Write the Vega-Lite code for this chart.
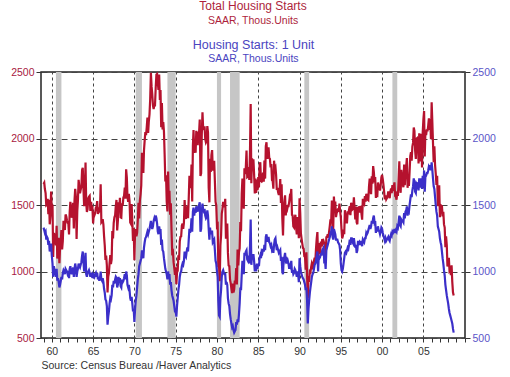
{
"$schema": "https://vega.github.io/schema/vega-lite/v6.json",
"width": 424, "height": 266,
"autosize": {"type": "none"},
"padding": {"left": 41, "top": 72, "right": 45, "bottom": 39},
"background": "white",
"config": {"view": {"stroke": "#222", "strokeWidth": 1.5}, "font": "Liberation Sans"},
"title": {"text": "Total Housing Starts", "subtitle": "SAAR, Thous.Units", "color": "#ad1f3c", "subtitleColor": "#ad1f3c", "fontSize": 12, "subtitleFontSize": 10.5, "fontWeight": "normal", "font": "Liberation Sans", "subtitleFont": "Liberation Sans", "anchor": "middle", "offset": 11, "subtitlePadding": 3},
"datasets": {
"rec": [
{"s":"1960-07","e":"1961-03"},{"s":"1970-03","e":"1970-12"},{"s":"1974-01","e":"1975-01"},{"s":"1980-01","e":"1980-07"},{"s":"1981-08","e":"1982-10"},{"s":"1990-08","e":"1991-03"},{"s":"2001-04","e":"2001-11"}
],
"m": [
{"d":"1959-01","a":1657,"b":1330},{"d":"1959-02","a":1667,"b":1310},{"d":"1959-03","a":1620,"b":1290},{"d":"1959-04","a":1590,"b":1300},{"d":"1959-05","a":1498,"b":1240},{"d":"1959-06","a":1503,"b":1260},{"d":"1959-07","a":1547,"b":1250},{"d":"1959-08","a":1430,"b":1200},{"d":"1959-09","a":1540,"b":1230},{"d":"1959-10","a":1355,"b":1150},{"d":"1959-11","a":1416,"b":1180},{"d":"1959-12","a":1601,"b":1210},
{"d":"1960-01","a":1460,"b":1120},{"d":"1960-02","a":1503,"b":1060},{"d":"1960-03","a":1109,"b":960},{"d":"1960-04","a":1289,"b":1040},{"d":"1960-05","a":1271,"b":1010},{"d":"1960-06","a":1247,"b":990},{"d":"1960-07","a":1197,"b":960},{"d":"1960-08","a":1344,"b":1020},{"d":"1960-09","a":1097,"b":930},{"d":"1960-10","a":1246,"b":950},{"d":"1960-11","a":1246,"b":920},{"d":"1960-12","a":1063,"b":880},
{"d":"1961-01","a":1183,"b":900},{"d":"1961-02","a":1226,"b":930},{"d":"1961-03","a":1312,"b":960},{"d":"1961-04","a":1166,"b":940},{"d":"1961-05","a":1228,"b":990},{"d":"1961-06","a":1382,"b":1010},{"d":"1961-07","a":1335,"b":1000},{"d":"1961-08","a":1312,"b":980},{"d":"1961-09","a":1429,"b":1020},{"d":"1961-10","a":1415,"b":1010},{"d":"1961-11","a":1385,"b":1000},{"d":"1961-12","a":1365,"b":980},
{"d":"1962-01","a":1361,"b":990},{"d":"1962-02","a":1278,"b":950},{"d":"1962-03","a":1443,"b":1020},{"d":"1962-04","a":1524,"b":1040},{"d":"1962-05","a":1483,"b":1000},{"d":"1962-06","a":1404,"b":980},{"d":"1962-07","a":1450,"b":1010},{"d":"1962-08","a":1517,"b":1030},{"d":"1962-09","a":1324,"b":960},{"d":"1962-10","a":1533,"b":1020},{"d":"1962-11","a":1622,"b":1060},{"d":"1962-12","a":1564,"b":1030},
{"d":"1963-01","a":1244,"b":960},{"d":"1963-02","a":1456,"b":1000},{"d":"1963-03","a":1534,"b":1020},{"d":"1963-04","a":1689,"b":1060},{"d":"1963-05","a":1641,"b":1040},{"d":"1963-06","a":1588,"b":1030},{"d":"1963-07","a":1614,"b":1050},{"d":"1963-08","a":1639,"b":1070},{"d":"1963-09","a":1763,"b":1120},{"d":"1963-10","a":1779,"b":1150},{"d":"1963-11","a":1622,"b":1080},{"d":"1963-12","a":1491,"b":1000},
{"d":"1964-01","a":1603,"b":1030},{"d":"1964-02","a":1820,"b":1140},{"d":"1964-03","a":1517,"b":980},{"d":"1964-04","a":1448,"b":960},{"d":"1964-05","a":1467,"b":990},{"d":"1964-06","a":1550,"b":1000},{"d":"1964-07","a":1562,"b":1010},{"d":"1964-08","a":1569,"b":990},{"d":"1964-09","a":1455,"b":960},{"d":"1964-10","a":1524,"b":990},{"d":"1964-11","a":1486,"b":970},{"d":"1964-12","a":1484,"b":980},
{"d":"1965-01","a":1361,"b":950},{"d":"1965-02","a":1433,"b":970},{"d":"1965-03","a":1423,"b":960},{"d":"1965-04","a":1438,"b":980},{"d":"1965-05","a":1478,"b":990},{"d":"1965-06","a":1488,"b":960},{"d":"1965-07","a":1529,"b":990},{"d":"1965-08","a":1432,"b":940},{"d":"1965-09","a":1482,"b":960},{"d":"1965-10","a":1452,"b":930},{"d":"1965-11","a":1460,"b":950},{"d":"1965-12","a":1656,"b":1000},
{"d":"1966-01","a":1370,"b":940},{"d":"1966-02","a":1378,"b":930},{"d":"1966-03","a":1394,"b":950},{"d":"1966-04","a":1352,"b":920},{"d":"1966-05","a":1265,"b":870},{"d":"1966-06","a":1194,"b":840},{"d":"1966-07","a":1086,"b":790},{"d":"1966-08","a":1119,"b":780},{"d":"1966-09","a":1046,"b":740},{"d":"1966-10","a":843,"b":600},{"d":"1966-11","a":961,"b":660},{"d":"1966-12","a":990,"b":700},
{"d":"1967-01","a":1067,"b":760},{"d":"1967-02","a":1123,"b":800},{"d":"1967-03","a":1056,"b":790},{"d":"1967-04","a":1091,"b":820},{"d":"1967-05","a":1304,"b":900},{"d":"1967-06","a":1248,"b":880},{"d":"1967-07","a":1364,"b":930},{"d":"1967-08","a":1407,"b":910},{"d":"1967-09","a":1421,"b":940},{"d":"1967-10","a":1491,"b":960},{"d":"1967-11","a":1538,"b":950},{"d":"1967-12","a":1308,"b":880},
{"d":"1968-01","a":1380,"b":900},{"d":"1968-02","a":1520,"b":960},{"d":"1968-03","a":1466,"b":920},{"d":"1968-04","a":1554,"b":950},{"d":"1968-05","a":1408,"b":890},{"d":"1968-06","a":1405,"b":880},{"d":"1968-07","a":1512,"b":940},{"d":"1968-08","a":1495,"b":920},{"d":"1968-09","a":1556,"b":930},{"d":"1968-10","a":1569,"b":950},{"d":"1968-11","a":1630,"b":980},{"d":"1968-12","a":1548,"b":940},
{"d":"1969-01","a":1769,"b":1000},{"d":"1969-02","a":1705,"b":970},{"d":"1969-03","a":1561,"b":900},{"d":"1969-04","a":1524,"b":880},{"d":"1969-05","a":1583,"b":900},{"d":"1969-06","a":1528,"b":860},{"d":"1969-07","a":1368,"b":800},{"d":"1969-08","a":1358,"b":780},{"d":"1969-09","a":1507,"b":810},{"d":"1969-10","a":1381,"b":760},{"d":"1969-11","a":1229,"b":700},{"d":"1969-12","a":1327,"b":720},
{"d":"1970-01","a":1085,"b":620},{"d":"1970-02","a":1305,"b":720},{"d":"1970-03","a":1319,"b":780},{"d":"1970-04","a":1264,"b":820},{"d":"1970-05","a":1290,"b":880},{"d":"1970-06","a":1385,"b":940},{"d":"1970-07","a":1517,"b":980},{"d":"1970-08","a":1399,"b":1040},{"d":"1970-09","a":1534,"b":1060},{"d":"1970-10","a":1580,"b":1080},{"d":"1970-11","a":1647,"b":1100},{"d":"1970-12","a":1893,"b":1160},
{"d":"1971-01","a":1828,"b":1120},{"d":"1971-02","a":1741,"b":1100},{"d":"1971-03","a":1910,"b":1180},{"d":"1971-04","a":1986,"b":1220},{"d":"1971-05","a":2049,"b":1250},{"d":"1971-06","a":2026,"b":1260},{"d":"1971-07","a":2083,"b":1280},{"d":"1971-08","a":2158,"b":1300},{"d":"1971-09","a":2041,"b":1280},{"d":"1971-10","a":2128,"b":1300},{"d":"1971-11","a":2182,"b":1320},{"d":"1971-12","a":2295,"b":1350},
{"d":"1972-01","a":2494,"b":1380},{"d":"1972-02","a":2390,"b":1340},{"d":"1972-03","a":2334,"b":1320},{"d":"1972-04","a":2249,"b":1340},{"d":"1972-05","a":2221,"b":1380},{"d":"1972-06","a":2254,"b":1400},{"d":"1972-07","a":2252,"b":1380},{"d":"1972-08","a":2382,"b":1420},{"d":"1972-09","a":2481,"b":1400},{"d":"1972-10","a":2485,"b":1360},{"d":"1972-11","a":2421,"b":1300},{"d":"1972-12","a":2366,"b":1280},
{"d":"1973-01","a":2481,"b":1340},{"d":"1973-02","a":2289,"b":1300},{"d":"1973-03","a":2365,"b":1320},{"d":"1973-04","a":2084,"b":1200},{"d":"1973-05","a":2266,"b":1240},{"d":"1973-06","a":2067,"b":1160},{"d":"1973-07","a":2123,"b":1150},{"d":"1973-08","a":2051,"b":1100},{"d":"1973-09","a":1874,"b":1060},{"d":"1973-10","a":1677,"b":1020},{"d":"1973-11","a":1724,"b":1000},{"d":"1973-12","a":1526,"b":980},
{"d":"1974-01","a":1451,"b":940},{"d":"1974-02","a":1752,"b":1000},{"d":"1974-03","a":1555,"b":960},{"d":"1974-04","a":1607,"b":980},{"d":"1974-05","a":1426,"b":900},{"d":"1974-06","a":1513,"b":920},{"d":"1974-07","a":1316,"b":860},{"d":"1974-08","a":1142,"b":820},{"d":"1974-09","a":1150,"b":800},{"d":"1974-10","a":1070,"b":780},{"d":"1974-11","a":1026,"b":740},{"d":"1974-12","a":975,"b":700},
{"d":"1975-01","a":1032,"b":700},{"d":"1975-02","a":904,"b":660},{"d":"1975-03","a":993,"b":740},{"d":"1975-04","a":1005,"b":800},{"d":"1975-05","a":1121,"b":860},{"d":"1975-06","a":1087,"b":900},{"d":"1975-07","a":1226,"b":960},{"d":"1975-08","a":1260,"b":990},{"d":"1975-09","a":1264,"b":1000},{"d":"1975-10","a":1344,"b":1040},{"d":"1975-11","a":1360,"b":1060},{"d":"1975-12","a":1321,"b":1050},
{"d":"1976-01","a":1367,"b":1080},{"d":"1976-02","a":1538,"b":1150},{"d":"1976-03","a":1421,"b":1120},{"d":"1976-04","a":1395,"b":1110},{"d":"1976-05","a":1459,"b":1150},{"d":"1976-06","a":1495,"b":1180},{"d":"1976-07","a":1401,"b":1150},{"d":"1976-08","a":1550,"b":1240},{"d":"1976-09","a":1720,"b":1320},{"d":"1976-10","a":1629,"b":1290},{"d":"1976-11","a":1641,"b":1320},{"d":"1976-12","a":1804,"b":1400},
{"d":"1977-01","a":1527,"b":1300},{"d":"1977-02","a":1943,"b":1450},{"d":"1977-03","a":2063,"b":1480},{"d":"1977-04","a":1892,"b":1420},{"d":"1977-05","a":1971,"b":1460},{"d":"1977-06","a":1893,"b":1440},{"d":"1977-07","a":2058,"b":1490},{"d":"1977-08","a":2020,"b":1470},{"d":"1977-09","a":1949,"b":1450},{"d":"1977-10","a":2042,"b":1480},{"d":"1977-11","a":2042,"b":1500},{"d":"1977-12","a":2142,"b":1520},
{"d":"1978-01","a":1718,"b":1300},{"d":"1978-02","a":1738,"b":1320},{"d":"1978-03","a":2032,"b":1450},{"d":"1978-04","a":2197,"b":1510},{"d":"1978-05","a":2075,"b":1460},{"d":"1978-06","a":2070,"b":1450},{"d":"1978-07","a":2092,"b":1470},{"d":"1978-08","a":1996,"b":1420},{"d":"1978-09","a":1970,"b":1400},{"d":"1978-10","a":1981,"b":1410},{"d":"1978-11","a":2094,"b":1460},{"d":"1978-12","a":2044,"b":1420},
{"d":"1979-01","a":1630,"b":1320},{"d":"1979-02","a":1520,"b":1240},{"d":"1979-03","a":1847,"b":1330},{"d":"1979-04","a":1748,"b":1280},{"d":"1979-05","a":1876,"b":1300},{"d":"1979-06","a":1913,"b":1300},{"d":"1979-07","a":1760,"b":1220},{"d":"1979-08","a":1778,"b":1230},{"d":"1979-09","a":1832,"b":1240},{"d":"1979-10","a":1681,"b":1160},{"d":"1979-11","a":1524,"b":1080},{"d":"1979-12","a":1498,"b":1060},
{"d":"1980-01","a":1341,"b":1000},{"d":"1980-02","a":1350,"b":960},{"d":"1980-03","a":1047,"b":780},{"d":"1980-04","a":1051,"b":670},{"d":"1980-05","a":927,"b":660},{"d":"1980-06","a":1196,"b":800},{"d":"1980-07","a":1269,"b":860},{"d":"1980-08","a":1436,"b":960},{"d":"1980-09","a":1471,"b":1000},{"d":"1980-10","a":1523,"b":1010},{"d":"1980-11","a":1510,"b":990},{"d":"1980-12","a":1482,"b":980},
{"d":"1981-01","a":1547,"b":980},{"d":"1981-02","a":1246,"b":900},{"d":"1981-03","a":1306,"b":920},{"d":"1981-04","a":1360,"b":900},{"d":"1981-05","a":1140,"b":800},{"d":"1981-06","a":1045,"b":760},{"d":"1981-07","a":1041,"b":740},{"d":"1981-08","a":940,"b":680},{"d":"1981-09","a":911,"b":640},{"d":"1981-10","a":873,"b":610},{"d":"1981-11","a":837,"b":580},{"d":"1981-12","a":910,"b":590},
{"d":"1982-01","a":843,"b":560},{"d":"1982-02","a":866,"b":540},{"d":"1982-03","a":931,"b":550},{"d":"1982-04","a":917,"b":560},{"d":"1982-05","a":1025,"b":620},{"d":"1982-06","a":902,"b":600},{"d":"1982-07","a":1166,"b":640},{"d":"1982-08","a":1046,"b":620},{"d":"1982-09","a":1144,"b":680},{"d":"1982-10","a":1173,"b":760},{"d":"1982-11","a":1372,"b":880},{"d":"1982-12","a":1303,"b":860},
{"d":"1983-01","a":1586,"b":980},{"d":"1983-02","a":1699,"b":1080},{"d":"1983-03","a":1606,"b":1060},{"d":"1983-04","a":1472,"b":980},{"d":"1983-05","a":1776,"b":1140},{"d":"1983-06","a":1733,"b":1120},{"d":"1983-07","a":1785,"b":1150},{"d":"1983-08","a":1910,"b":1160},{"d":"1983-09","a":1710,"b":1090},{"d":"1983-10","a":1715,"b":1080},{"d":"1983-11","a":1785,"b":1120},{"d":"1983-12","a":1688,"b":1060},
{"d":"1984-01","a":1897,"b":1180},{"d":"1984-02","a":2260,"b":1390},{"d":"1984-03","a":1663,"b":1050},{"d":"1984-04","a":1851,"b":1120},{"d":"1984-05","a":1774,"b":1100},{"d":"1984-06","a":1843,"b":1130},{"d":"1984-07","a":1732,"b":1080},{"d":"1984-08","a":1586,"b":1000},{"d":"1984-09","a":1698,"b":1050},{"d":"1984-10","a":1590,"b":1000},{"d":"1984-11","a":1689,"b":1060},{"d":"1984-12","a":1612,"b":1020},
{"d":"1985-01","a":1711,"b":1060},{"d":"1985-02","a":1632,"b":1040},{"d":"1985-03","a":1800,"b":1100},{"d":"1985-04","a":1821,"b":1120},{"d":"1985-05","a":1680,"b":1100},{"d":"1985-06","a":1676,"b":1150},{"d":"1985-07","a":1684,"b":1140},{"d":"1985-08","a":1743,"b":1170},{"d":"1985-09","a":1676,"b":1150},{"d":"1985-10","a":1834,"b":1200},{"d":"1985-11","a":1698,"b":1160},{"d":"1985-12","a":1942,"b":1260},
{"d":"1986-01","a":1972,"b":1280},{"d":"1986-02","a":1848,"b":1230},{"d":"1986-03","a":1876,"b":1230},{"d":"1986-04","a":1933,"b":1260},{"d":"1986-05","a":1854,"b":1220},{"d":"1986-06","a":1847,"b":1210},{"d":"1986-07","a":1782,"b":1190},{"d":"1986-08","a":1807,"b":1200},{"d":"1986-09","a":1687,"b":1160},{"d":"1986-10","a":1681,"b":1170},{"d":"1986-11","a":1623,"b":1140},{"d":"1986-12","a":1833,"b":1200},
{"d":"1987-01","a":1774,"b":1240},{"d":"1987-02","a":1784,"b":1250},{"d":"1987-03","a":1726,"b":1200},{"d":"1987-04","a":1614,"b":1160},{"d":"1987-05","a":1628,"b":1180},{"d":"1987-06","a":1594,"b":1160},{"d":"1987-07","a":1575,"b":1140},{"d":"1987-08","a":1605,"b":1150},{"d":"1987-09","a":1695,"b":1160},{"d":"1987-10","a":1515,"b":1080},{"d":"1987-11","a":1656,"b":1110},{"d":"1987-12","a":1400,"b":1000},
{"d":"1988-01","a":1271,"b":980},{"d":"1988-02","a":1473,"b":1100},{"d":"1988-03","a":1532,"b":1110},{"d":"1988-04","a":1573,"b":1140},{"d":"1988-05","a":1421,"b":1080},{"d":"1988-06","a":1478,"b":1090},{"d":"1988-07","a":1467,"b":1060},{"d":"1988-08","a":1493,"b":1080},{"d":"1988-09","a":1492,"b":1060},{"d":"1988-10","a":1522,"b":1020},{"d":"1988-11","a":1569,"b":1040},{"d":"1988-12","a":1563,"b":1030},
{"d":"1989-01","a":1621,"b":1080},{"d":"1989-02","a":1425,"b":990},{"d":"1989-03","a":1422,"b":1010},{"d":"1989-04","a":1339,"b":980},{"d":"1989-05","a":1331,"b":990},{"d":"1989-06","a":1397,"b":1020},{"d":"1989-07","a":1427,"b":1010},{"d":"1989-08","a":1332,"b":990},{"d":"1989-09","a":1279,"b":960},{"d":"1989-10","a":1410,"b":1000},{"d":"1989-11","a":1351,"b":980},{"d":"1989-12","a":1251,"b":920},
{"d":"1990-01","a":1551,"b":1100},{"d":"1990-02","a":1437,"b":1040},{"d":"1990-03","a":1289,"b":1000},{"d":"1990-04","a":1248,"b":980},{"d":"1990-05","a":1212,"b":960},{"d":"1990-06","a":1177,"b":950},{"d":"1990-07","a":1171,"b":940},{"d":"1990-08","a":1115,"b":920},{"d":"1990-09","a":1110,"b":900},{"d":"1990-10","a":1014,"b":860},{"d":"1990-11","a":1145,"b":880},{"d":"1990-12","a":969,"b":780},
{"d":"1991-01","a":798,"b":610},{"d":"1991-02","a":965,"b":720},{"d":"1991-03","a":921,"b":780},{"d":"1991-04","a":1001,"b":840},{"d":"1991-05","a":996,"b":880},{"d":"1991-06","a":1036,"b":920},{"d":"1991-07","a":1063,"b":960},{"d":"1991-08","a":1049,"b":980},{"d":"1991-09","a":1015,"b":990},{"d":"1991-10","a":1079,"b":1020},{"d":"1991-11","a":1103,"b":1050},{"d":"1991-12","a":1079,"b":1060},
{"d":"1992-01","a":1176,"b":1080},{"d":"1992-02","a":1250,"b":1120},{"d":"1992-03","a":1297,"b":1150},{"d":"1992-04","a":1099,"b":1000},{"d":"1992-05","a":1214,"b":1120},{"d":"1992-06","a":1145,"b":1100},{"d":"1992-07","a":1139,"b":1110},{"d":"1992-08","a":1226,"b":1140},{"d":"1992-09","a":1186,"b":1120},{"d":"1992-10","a":1244,"b":1160},{"d":"1992-11","a":1214,"b":1170},{"d":"1992-12","a":1227,"b":1180},
{"d":"1993-01","a":1210,"b":1060},{"d":"1993-02","a":1210,"b":1080},{"d":"1993-03","a":1083,"b":1020},{"d":"1993-04","a":1258,"b":1160},{"d":"1993-05","a":1260,"b":1180},{"d":"1993-06","a":1280,"b":1200},{"d":"1993-07","a":1254,"b":1220},{"d":"1993-08","a":1300,"b":1240},{"d":"1993-09","a":1343,"b":1260},{"d":"1993-10","a":1392,"b":1290},{"d":"1993-11","a":1376,"b":1300},{"d":"1993-12","a":1533,"b":1340},
{"d":"1994-01","a":1272,"b":1260},{"d":"1994-02","a":1337,"b":1240},{"d":"1994-03","a":1564,"b":1320},{"d":"1994-04","a":1465,"b":1300},{"d":"1994-05","a":1526,"b":1280},{"d":"1994-06","a":1409,"b":1240},{"d":"1994-07","a":1439,"b":1240},{"d":"1994-08","a":1450,"b":1240},{"d":"1994-09","a":1474,"b":1220},{"d":"1994-10","a":1450,"b":1210},{"d":"1994-11","a":1511,"b":1200},{"d":"1994-12","a":1455,"b":1160},
{"d":"1995-01","a":1407,"b":1060},{"d":"1995-02","a":1316,"b":1010},{"d":"1995-03","a":1249,"b":1000},{"d":"1995-04","a":1267,"b":1020},{"d":"1995-05","a":1314,"b":1060},{"d":"1995-06","a":1281,"b":1100},{"d":"1995-07","a":1461,"b":1140},{"d":"1995-08","a":1416,"b":1150},{"d":"1995-09","a":1369,"b":1140},{"d":"1995-10","a":1369,"b":1160},{"d":"1995-11","a":1452,"b":1180},{"d":"1995-12","a":1431,"b":1170},
{"d":"1996-01","a":1467,"b":1200},{"d":"1996-02","a":1491,"b":1240},{"d":"1996-03","a":1424,"b":1200},{"d":"1996-04","a":1516,"b":1250},{"d":"1996-05","a":1504,"b":1250},{"d":"1996-06","a":1467,"b":1220},{"d":"1996-07","a":1472,"b":1210},{"d":"1996-08","a":1557,"b":1250},{"d":"1996-09","a":1475,"b":1210},{"d":"1996-10","a":1392,"b":1180},{"d":"1996-11","a":1489,"b":1200},{"d":"1996-12","a":1370,"b":1140},
{"d":"1997-01","a":1355,"b":1160},{"d":"1997-02","a":1486,"b":1230},{"d":"1997-03","a":1457,"b":1210},{"d":"1997-04","a":1492,"b":1220},{"d":"1997-05","a":1442,"b":1200},{"d":"1997-06","a":1494,"b":1230},{"d":"1997-07","a":1437,"b":1210},{"d":"1997-08","a":1390,"b":1190},{"d":"1997-09","a":1546,"b":1240},{"d":"1997-10","a":1520,"b":1230},{"d":"1997-11","a":1510,"b":1220},{"d":"1997-12","a":1566,"b":1250},
{"d":"1998-01","a":1525,"b":1250},{"d":"1998-02","a":1584,"b":1290},{"d":"1998-03","a":1567,"b":1280},{"d":"1998-04","a":1540,"b":1290},{"d":"1998-05","a":1536,"b":1310},{"d":"1998-06","a":1641,"b":1330},{"d":"1998-07","a":1698,"b":1350},{"d":"1998-08","a":1614,"b":1320},{"d":"1998-09","a":1582,"b":1340},{"d":"1998-10","a":1715,"b":1380},{"d":"1998-11","a":1660,"b":1360},{"d":"1998-12","a":1792,"b":1400},
{"d":"1999-01","a":1748,"b":1420},{"d":"1999-02","a":1670,"b":1370},{"d":"1999-03","a":1710,"b":1380},{"d":"1999-04","a":1553,"b":1290},{"d":"1999-05","a":1611,"b":1330},{"d":"1999-06","a":1559,"b":1300},{"d":"1999-07","a":1669,"b":1340},{"d":"1999-08","a":1648,"b":1310},{"d":"1999-09","a":1635,"b":1300},{"d":"1999-10","a":1608,"b":1280},{"d":"1999-11","a":1651,"b":1300},{"d":"1999-12","a":1709,"b":1330},
{"d":"2000-01","a":1727,"b":1320},{"d":"2000-02","a":1692,"b":1290},{"d":"2000-03","a":1651,"b":1270},{"d":"2000-04","a":1597,"b":1250},{"d":"2000-05","a":1543,"b":1230},{"d":"2000-06","a":1572,"b":1250},{"d":"2000-07","a":1542,"b":1230},{"d":"2000-08","a":1552,"b":1240},{"d":"2000-09","a":1568,"b":1250},{"d":"2000-10","a":1602,"b":1260},{"d":"2000-11","a":1577,"b":1240},{"d":"2000-12","a":1551,"b":1230},
{"d":"2001-01","a":1600,"b":1260},{"d":"2001-02","a":1625,"b":1280},{"d":"2001-03","a":1590,"b":1270},{"d":"2001-04","a":1649,"b":1300},{"d":"2001-05","a":1605,"b":1290},{"d":"2001-06","a":1636,"b":1300},{"d":"2001-07","a":1670,"b":1320},{"d":"2001-08","a":1567,"b":1290},{"d":"2001-09","a":1562,"b":1310},{"d":"2001-10","a":1540,"b":1300},{"d":"2001-11","a":1602,"b":1340},{"d":"2001-12","a":1568,"b":1330},
{"d":"2002-01","a":1698,"b":1370},{"d":"2002-02","a":1829,"b":1420},{"d":"2002-03","a":1642,"b":1350},{"d":"2002-04","a":1592,"b":1340},{"d":"2002-05","a":1764,"b":1390},{"d":"2002-06","a":1717,"b":1380},{"d":"2002-07","a":1655,"b":1380},{"d":"2002-08","a":1633,"b":1370},{"d":"2002-09","a":1804,"b":1440},{"d":"2002-10","a":1648,"b":1400},{"d":"2002-11","a":1753,"b":1450},{"d":"2002-12","a":1788,"b":1460},
{"d":"2003-01","a":1853,"b":1490},{"d":"2003-02","a":1629,"b":1420},{"d":"2003-03","a":1726,"b":1460},{"d":"2003-04","a":1643,"b":1450},{"d":"2003-05","a":1751,"b":1500},{"d":"2003-06","a":1867,"b":1540},{"d":"2003-07","a":1897,"b":1580},{"d":"2003-08","a":1833,"b":1560},{"d":"2003-09","a":1939,"b":1610},{"d":"2003-10","a":1967,"b":1640},{"d":"2003-11","a":2083,"b":1700},{"d":"2003-12","a":2057,"b":1670},
{"d":"2004-01","a":1911,"b":1600},{"d":"2004-02","a":1846,"b":1590},{"d":"2004-03","a":1998,"b":1660},{"d":"2004-04","a":2003,"b":1650},{"d":"2004-05","a":1981,"b":1660},{"d":"2004-06","a":1813,"b":1610},{"d":"2004-07","a":2039,"b":1700},{"d":"2004-08","a":1969,"b":1670},{"d":"2004-09","a":1827,"b":1630},{"d":"2004-10","a":2035,"b":1700},{"d":"2004-11","a":1782,"b":1620},{"d":"2004-12","a":2042,"b":1720},
{"d":"2005-01","a":2144,"b":1640},{"d":"2005-02","a":2207,"b":1760},{"d":"2005-03","a":1864,"b":1600},{"d":"2005-04","a":2061,"b":1720},{"d":"2005-05","a":2025,"b":1720},{"d":"2005-06","a":2068,"b":1740},{"d":"2005-07","a":2054,"b":1740},{"d":"2005-08","a":2095,"b":1760},{"d":"2005-09","a":2151,"b":1790},{"d":"2005-10","a":2065,"b":1780},{"d":"2005-11","a":2147,"b":1800},{"d":"2005-12","a":1994,"b":1760},
{"d":"2006-01","a":2273,"b":1820},{"d":"2006-02","a":2119,"b":1760},{"d":"2006-03","a":1969,"b":1700},{"d":"2006-04","a":1821,"b":1640},{"d":"2006-05","a":1942,"b":1620},{"d":"2006-06","a":1802,"b":1560},{"d":"2006-07","a":1737,"b":1500},{"d":"2006-08","a":1650,"b":1450},{"d":"2006-09","a":1720,"b":1420},{"d":"2006-10","a":1491,"b":1340},{"d":"2006-11","a":1570,"b":1320},{"d":"2006-12","a":1649,"b":1300},
{"d":"2007-01","a":1409,"b":1250},{"d":"2007-02","a":1480,"b":1220},{"d":"2007-03","a":1495,"b":1200},{"d":"2007-04","a":1490,"b":1150},{"d":"2007-05","a":1415,"b":1100},{"d":"2007-06","a":1448,"b":1060},{"d":"2007-07","a":1354,"b":1010},{"d":"2007-08","a":1330,"b":970},{"d":"2007-09","a":1183,"b":900},{"d":"2007-10","a":1264,"b":860},{"d":"2007-11","a":1197,"b":820},{"d":"2007-12","a":1037,"b":790},
{"d":"2008-01","a":1084,"b":760},{"d":"2008-02","a":1103,"b":720},{"d":"2008-03","a":1005,"b":690},{"d":"2008-04","a":1013,"b":670},{"d":"2008-05","a":973,"b":650},{"d":"2008-06","a":1046,"b":630},{"d":"2008-07","a":923,"b":610},{"d":"2008-08","a":844,"b":570},{"d":"2008-09","a":820,"b":540}
]
},
"layer": [
{"data": {"name": "rec"}, "mark": {"type": "rect", "color": "#c6c6c6"},
 "encoding": {
  "x": {"field": "s", "type": "temporal", "scale": {"type": "utc", "domain": [{"year": 1958, "month": 9, "date": 10, "utc": true}, {"year": 2010, "month": 1, "date": 15, "utc": true}]},
   "axis": {"orient": "bottom", "tickCount": {"interval": "year", "step": 1}, "labelExpr": "(utcyear(datum.value) % 5 === 0 && utcyear(datum.value) < 2010) ? utcFormat(datum.value, '%y') : ''", "labelOverlap": false, "labelFlush": false, "labelFontSize": 10.5, "labelColor": "#333", "labelPadding": 4, "tickSize": 4, "tickColor": "#333", "domain": false, "grid": true, "gridDash": [3, 3], "gridColor": "#444", "gridOpacity": {"condition": {"test": "utcyear(datum.value) % 5 === 0 && utcyear(datum.value) < 2010", "value": 1}, "value": 0}, "title": "Source:  Census Bureau /Haver Analytics", "titleAnchor": "start", "titleFontSize": 10.5, "titleFontWeight": "normal", "titleColor": "#333", "titlePadding": 4}},
  "x2": {"field": "e"}
 }},
{"data": {"name": "m"}, "mark": {"type": "line", "color": "#b5122e", "strokeWidth": 2.2},
 "encoding": {
  "x": {"field": "d", "type": "temporal", "axis": null},
  "y": {"field": "a", "type": "quantitative", "scale": {"domain": [500, 2500], "nice": false},
   "axis": {"orient": "left", "values": [500, 1000, 1500, 2000, 2500], "format": "d", "labelColor": "#a8203f", "labelFontSize": 10.5, "tickSize": 5, "tickColor": "#333", "domain": false, "grid": true, "gridDash": [6, 4], "gridColor": "#444", "title": null}}
 }},
{"data": {"name": "m"}, "mark": {"type": "line", "color": "#3b2fc9", "strokeWidth": 2.2},
 "encoding": {
  "x": {"field": "d", "type": "temporal",
   "axis": {"orient": "top", "values": [{"year": 1984, "month": 5, "date": 10, "utc": true}], "labelExpr": "'SAAR, Thous.Units'", "labelOverlap": false, "labelBound": false, "labelFlush": false, "ticks": false, "domain": false, "grid": false, "labelColor": "#4a44c0", "labelFontSize": 10.5, "labelPadding": 9, "title": "Housing Starts: 1 Unit", "titleColor": "#4a44c0", "titleFontSize": 12.5, "titleFontWeight": "normal", "titlePadding": 2}},
  "y": {"field": "b", "type": "quantitative",
   "axis": {"orient": "right", "values": [500, 1000, 1500, 2000, 2500], "format": "d", "labelColor": "#5a55c8", "labelFontSize": 10.5, "tickSize": 5, "tickColor": "#333", "domain": false, "grid": false, "title": null}}
 }}
],
"resolve": {"axis": {"x": "independent", "y": "independent"}}
}
